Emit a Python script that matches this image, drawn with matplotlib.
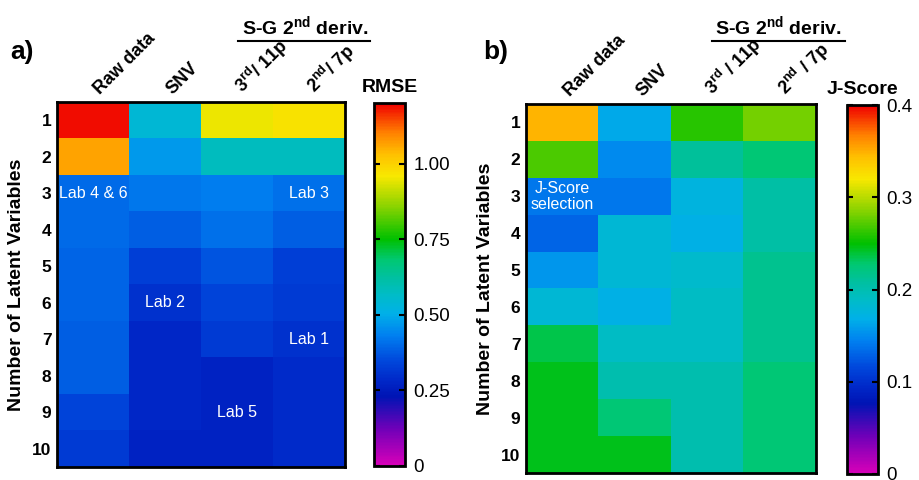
import numpy as np
import matplotlib
matplotlib.use("Agg")
import matplotlib.pyplot as plt
from matplotlib.colors import LinearSegmentedColormap
from matplotlib.lines import Line2D

plt.rcParams['font.family'] = ['Liberation Sans', 'DejaVu Sans']
plt.rcParams['mathtext.fontset'] = 'custom'
plt.rcParams['mathtext.rm'] = 'Liberation Sans'
plt.rcParams['mathtext.bf'] = 'Liberation Sans:bold'

# data
columns_a = ['Raw data', 'SNV', r'3$^{\mathbf{rd}}$/ 11p', r'2$^{\mathbf{nd}}$/ 7p']
columns_b = ['Raw data', 'SNV', r'3$^{\mathbf{rd}}$ / 11p', r'2$^{\mathbf{nd}}$ / 7p']
n_lv = [str(i) for i in range(1, 11)]

# RMSE, rows = latent variables 1..10, cols = raw, SNV, 3rd/11p, 2nd/7p
rmse = [
    [1.19, 0.54, 0.95, 0.97],
    [1.06, 0.47, 0.58, 0.58],
    [0.40, 0.42, 0.43, 0.41],
    [0.40, 0.38, 0.41, 0.38],
    [0.39, 0.33, 0.37, 0.33],
    [0.39, 0.30, 0.34, 0.32],
    [0.38, 0.28, 0.32, 0.30],
    [0.38, 0.28, 0.27, 0.29],
    [0.34, 0.28, 0.27, 0.29],
    [0.32, 0.27, 0.27, 0.29],
]

jscore = [
    [0.348, 0.165, 0.260, 0.280],
    [0.270, 0.150, 0.210, 0.225],
    [0.140, 0.140, 0.175, 0.205],
    [0.130, 0.180, 0.170, 0.205],
    [0.155, 0.180, 0.185, 0.215],
    [0.180, 0.170, 0.190, 0.215],
    [0.235, 0.190, 0.190, 0.215],
    [0.245, 0.200, 0.200, 0.225],
    [0.245, 0.225, 0.200, 0.225],
    [0.245, 0.245, 0.200, 0.225],
]

# (row, col, text) annotations
labs_a = [(2, 0, 'Lab 4 & 6'), (2, 3, 'Lab 3'), (5, 1, 'Lab 2'), (6, 3, 'Lab 1'), (8, 2, 'Lab 5')]
labs_b = [(2, 0, 'J-Score\nselection')]

# prism-like rainbow
cmap = LinearSegmentedColormap.from_list('prism_rainbow', [
    (0.00, '#d800b8'),
    (0.10, '#7000b8'),
    (0.19, '#0014b4'),
    (0.235, '#0028c8'),
    (0.29, '#0048dc'),
    (0.36, '#0080f0'),
    (0.42, '#00b0e8'),
    (0.47, '#00bcc8'),
    (0.52, '#00c0a0'),
    (0.57, '#00c870'),
    (0.625, '#00c000'),
    (0.72, '#90d400'),
    (0.80, '#f8e800'),
    (0.86, '#ffc000'),
    (0.92, '#ff8000'),
    (1.00, '#f00000'),
])

W, H = 919, 480
fig = plt.figure(figsize=(W / 100, H / 100), dpi=100)


def px_axes(x0, y0, x1, y1):
    return fig.add_axes([x0 / W, 1 - y1 / H, (x1 - x0) / W, (y1 - y0) / H])


def draw_panel(box, cbox, data, vmax, ticks, ticklabels, cols, labs, cbtitle):
    ax = px_axes(*box)
    im = ax.imshow(np.array(data), cmap=cmap, vmin=0, vmax=vmax, aspect='auto',
                   interpolation='nearest')
    ax.set_xticks([])
    ax.set_yticks(range(10))
    ax.set_yticklabels(n_lv, fontsize=12.5, fontweight='bold')
    ax.tick_params(axis='y', length=0, pad=4)
    for s in ax.spines.values():
        s.set_linewidth(2)
    for j, c in enumerate(cols):
        ax.text(j + 0.14, -0.62, c, rotation=45, rotation_mode='anchor',
                ha='left', va='bottom', fontsize=13, fontweight='bold')
    for r, c, t in labs:
        ax.text(c, r, t, color='white', ha='center', va='center', fontsize=11.5,
                linespacing=1.1)
    ax.set_ylabel('Number of Latent Variables', fontsize=14, fontweight='bold',
                  labelpad=5)

    cax = px_axes(*cbox)
    cb = fig.colorbar(im, cax=cax, ticks=ticks)
    cb.set_ticklabels(ticklabels)
    cb.outline.set_linewidth(2)
    cax.tick_params(direction='in', left=True, right=True, length=4, width=1.5,
                    labelsize=13.5, pad=6)
    cax.text(0.5, 1.02, cbtitle, transform=cax.transAxes, ha='center', va='bottom',
             fontsize=14, fontweight='bold')
    return ax


ax_a = draw_panel((57, 102, 345, 467), (374, 103, 405, 466), rmse, 1.2,
                  [0, 0.25, 0.5, 0.75, 1.0], ['0', '0.25', '0.50', '0.75', '1.00'],
                  columns_a, labs_a, 'RMSE')
ax_b = draw_panel((526, 104, 816, 473), (847, 105, 878, 474), jscore, 0.4,
                  [0, 0.1, 0.2, 0.3, 0.4], ['0', '0.1', '0.2', '0.3', '0.4'],
                  columns_b, labs_b, 'J-Score')

# group header
for xc, x0, x1 in [(305, 238, 370), (778, 712, 845)]:
    fig.text(xc / W, 1 - 35 / H, r'S-G 2$^{\mathbf{nd}}$ deriv.', ha='center',
             va='baseline', fontsize=14, fontweight='bold')
    fig.add_artist(Line2D([x0 / W, x1 / W], [1 - 41 / H, 1 - 41 / H],
                          color='black', lw=1.5))

fig.text(22 / W, 1 - 52 / H, 'a)', ha='center', va='center', fontsize=19, fontweight='bold')
fig.text(496 / W, 1 - 52 / H, 'b)', ha='center', va='center', fontsize=19, fontweight='bold')

fig.savefig('out.png', dpi=100)
